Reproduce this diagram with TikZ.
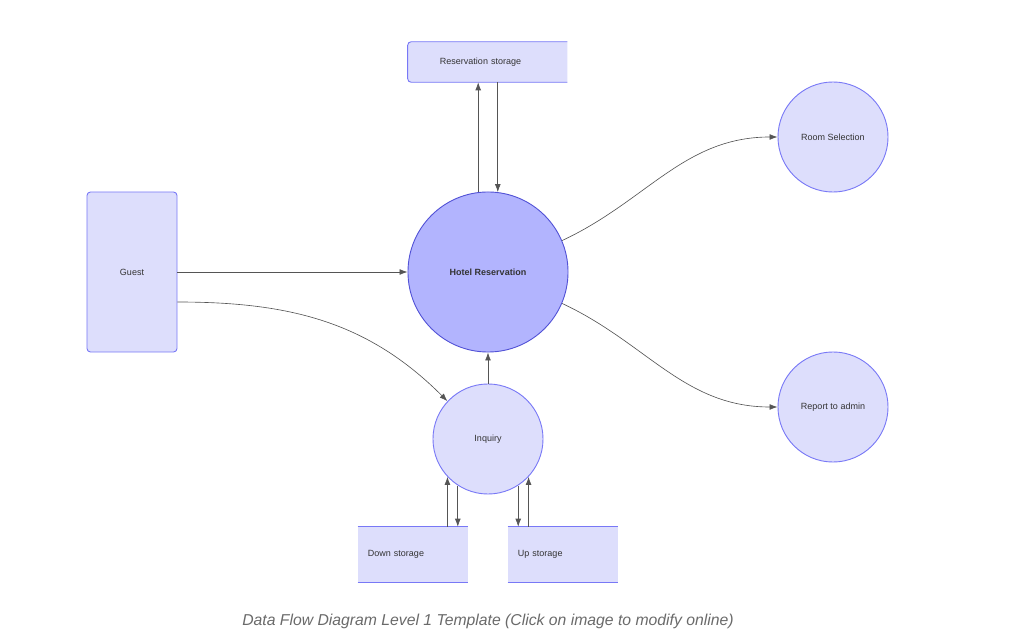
\documentclass[tikz,border=0pt]{standalone}
\usepackage{fontspec}
\setmainfont{Liberation Sans}
\usetikzlibrary{arrows.meta,backgrounds}
\definecolor{lightC}{HTML}{DDDEFC}
\definecolor{edgeC}{HTML}{7878F6}
\definecolor{hotelC}{HTML}{B2B4FE}
\definecolor{hedgeC}{HTML}{5252D6}
\definecolor{lineC}{HTML}{555555}
\definecolor{txtC}{HTML}{333333}
\definecolor{capC}{HTML}{6A6A6A}
\tikzset{
  every node/.style={font=\fontsize{6.4}{8}\selectfont, text=txtC},
  entity/.style={draw=edgeC, line width=0.65pt, fill=lightC, rounded corners=2.5pt, minimum width=2.25cm, minimum height=4cm},
  proc/.style={circle, draw=edgeC, line width=0.65pt, fill=lightC, minimum size=2.75cm, inner sep=0pt},
  mainproc/.style={circle, draw=hedgeC, line width=0.65pt, fill=hotelC, minimum size=4cm, inner sep=0pt,
                   font=\fontsize{6.4}{8}\selectfont\bfseries},
  store/.style={minimum height=1.375cm, align=left, inner ysep=0pt},
  storeline/.style={draw=edgeC, line width=0.65pt},
  flow/.style={draw=lineC, line width=0.45pt, -{Latex[length=2mm,width=1.45mm]}},
  caption/.style={font=\fontsize{11.2}{13}\selectfont\itshape, text=capC},
}
\begin{document}
\begin{tikzpicture}[x=0.025cm, y=-0.025cm]
\useasboundingbox (0,0) rectangle (1021,636);
% processes
\node[mainproc] (hr) at (488,272) {Hotel Reservation};
\node[proc] (rsel) at (833,137) {Room Selection};
\node[proc] (rep) at (833,407) {Report to admin};
\node[proc] (inq) at (488,439) {Inquiry};
% external entity
\node[entity] (guest) at (132,272) {Guest};
% data stores
\node[store, minimum width=3.975cm, text width=2.375cm, inner xsep=0.8cm, minimum height=1cm] (rs) at (487.5,62) {Reservation storage};
\node[store, minimum width=2.75cm, text width=2.25cm, inner xsep=0.25cm] (ds) at (413,554.5) {Down storage};
\node[store, minimum width=2.75cm, text width=2.25cm, inner xsep=0.25cm] (us) at (563,554.5) {Up storage};
\begin{scope}[on background layer]
  \fill[lightC, rounded corners=2.5pt] (rs.south east) -- (rs.south west) -- (rs.north west) [sharp corners] -- (rs.north east) -- cycle;
  \fill[lightC] (ds.south west) rectangle (ds.north east);
  \fill[lightC] (us.south west) rectangle (us.north east);
\end{scope}
\draw[storeline, rounded corners=2.5pt] (rs.north east) -- (rs.north west) -- (rs.south west) -- (rs.south east);
\draw[storeline] (ds.north west) -- (ds.north east) (ds.south west) -- (ds.south east);
\draw[storeline] (us.north west) -- (us.north east) (us.south west) -- (us.south east);
% flows
\draw[flow] (hr.97) -- (hr.97 |- rs.south);
\draw[flow] (hr.83 |- rs.south) -- (hr.83);
\draw[flow] (guest.east) -- (hr.west);
\draw[flow] ([yshift=-0.75cm]guest.east) to[out=0, in=135] (inq.137);
\draw[flow] (inq.north) -- (hr.south);
\draw[flow] (hr.23) to[out=25, in=180] (rsel.west);
\draw[flow] (hr.-23) to[out=-25, in=180] (rep.west);
\draw[flow] (ds.north -| inq.223) -- (inq.223);
\draw[flow] (inq.237) -- (ds.north -| inq.237);
\draw[flow] (inq.303) -- (us.north -| inq.303);
\draw[flow] (us.north -| inq.317) -- (inq.317);
% caption
\node[caption] (cap) at (488,621) {Data Flow Diagram Level 1 Template (Click on image to modify online)};
\end{tikzpicture}
\end{document}
